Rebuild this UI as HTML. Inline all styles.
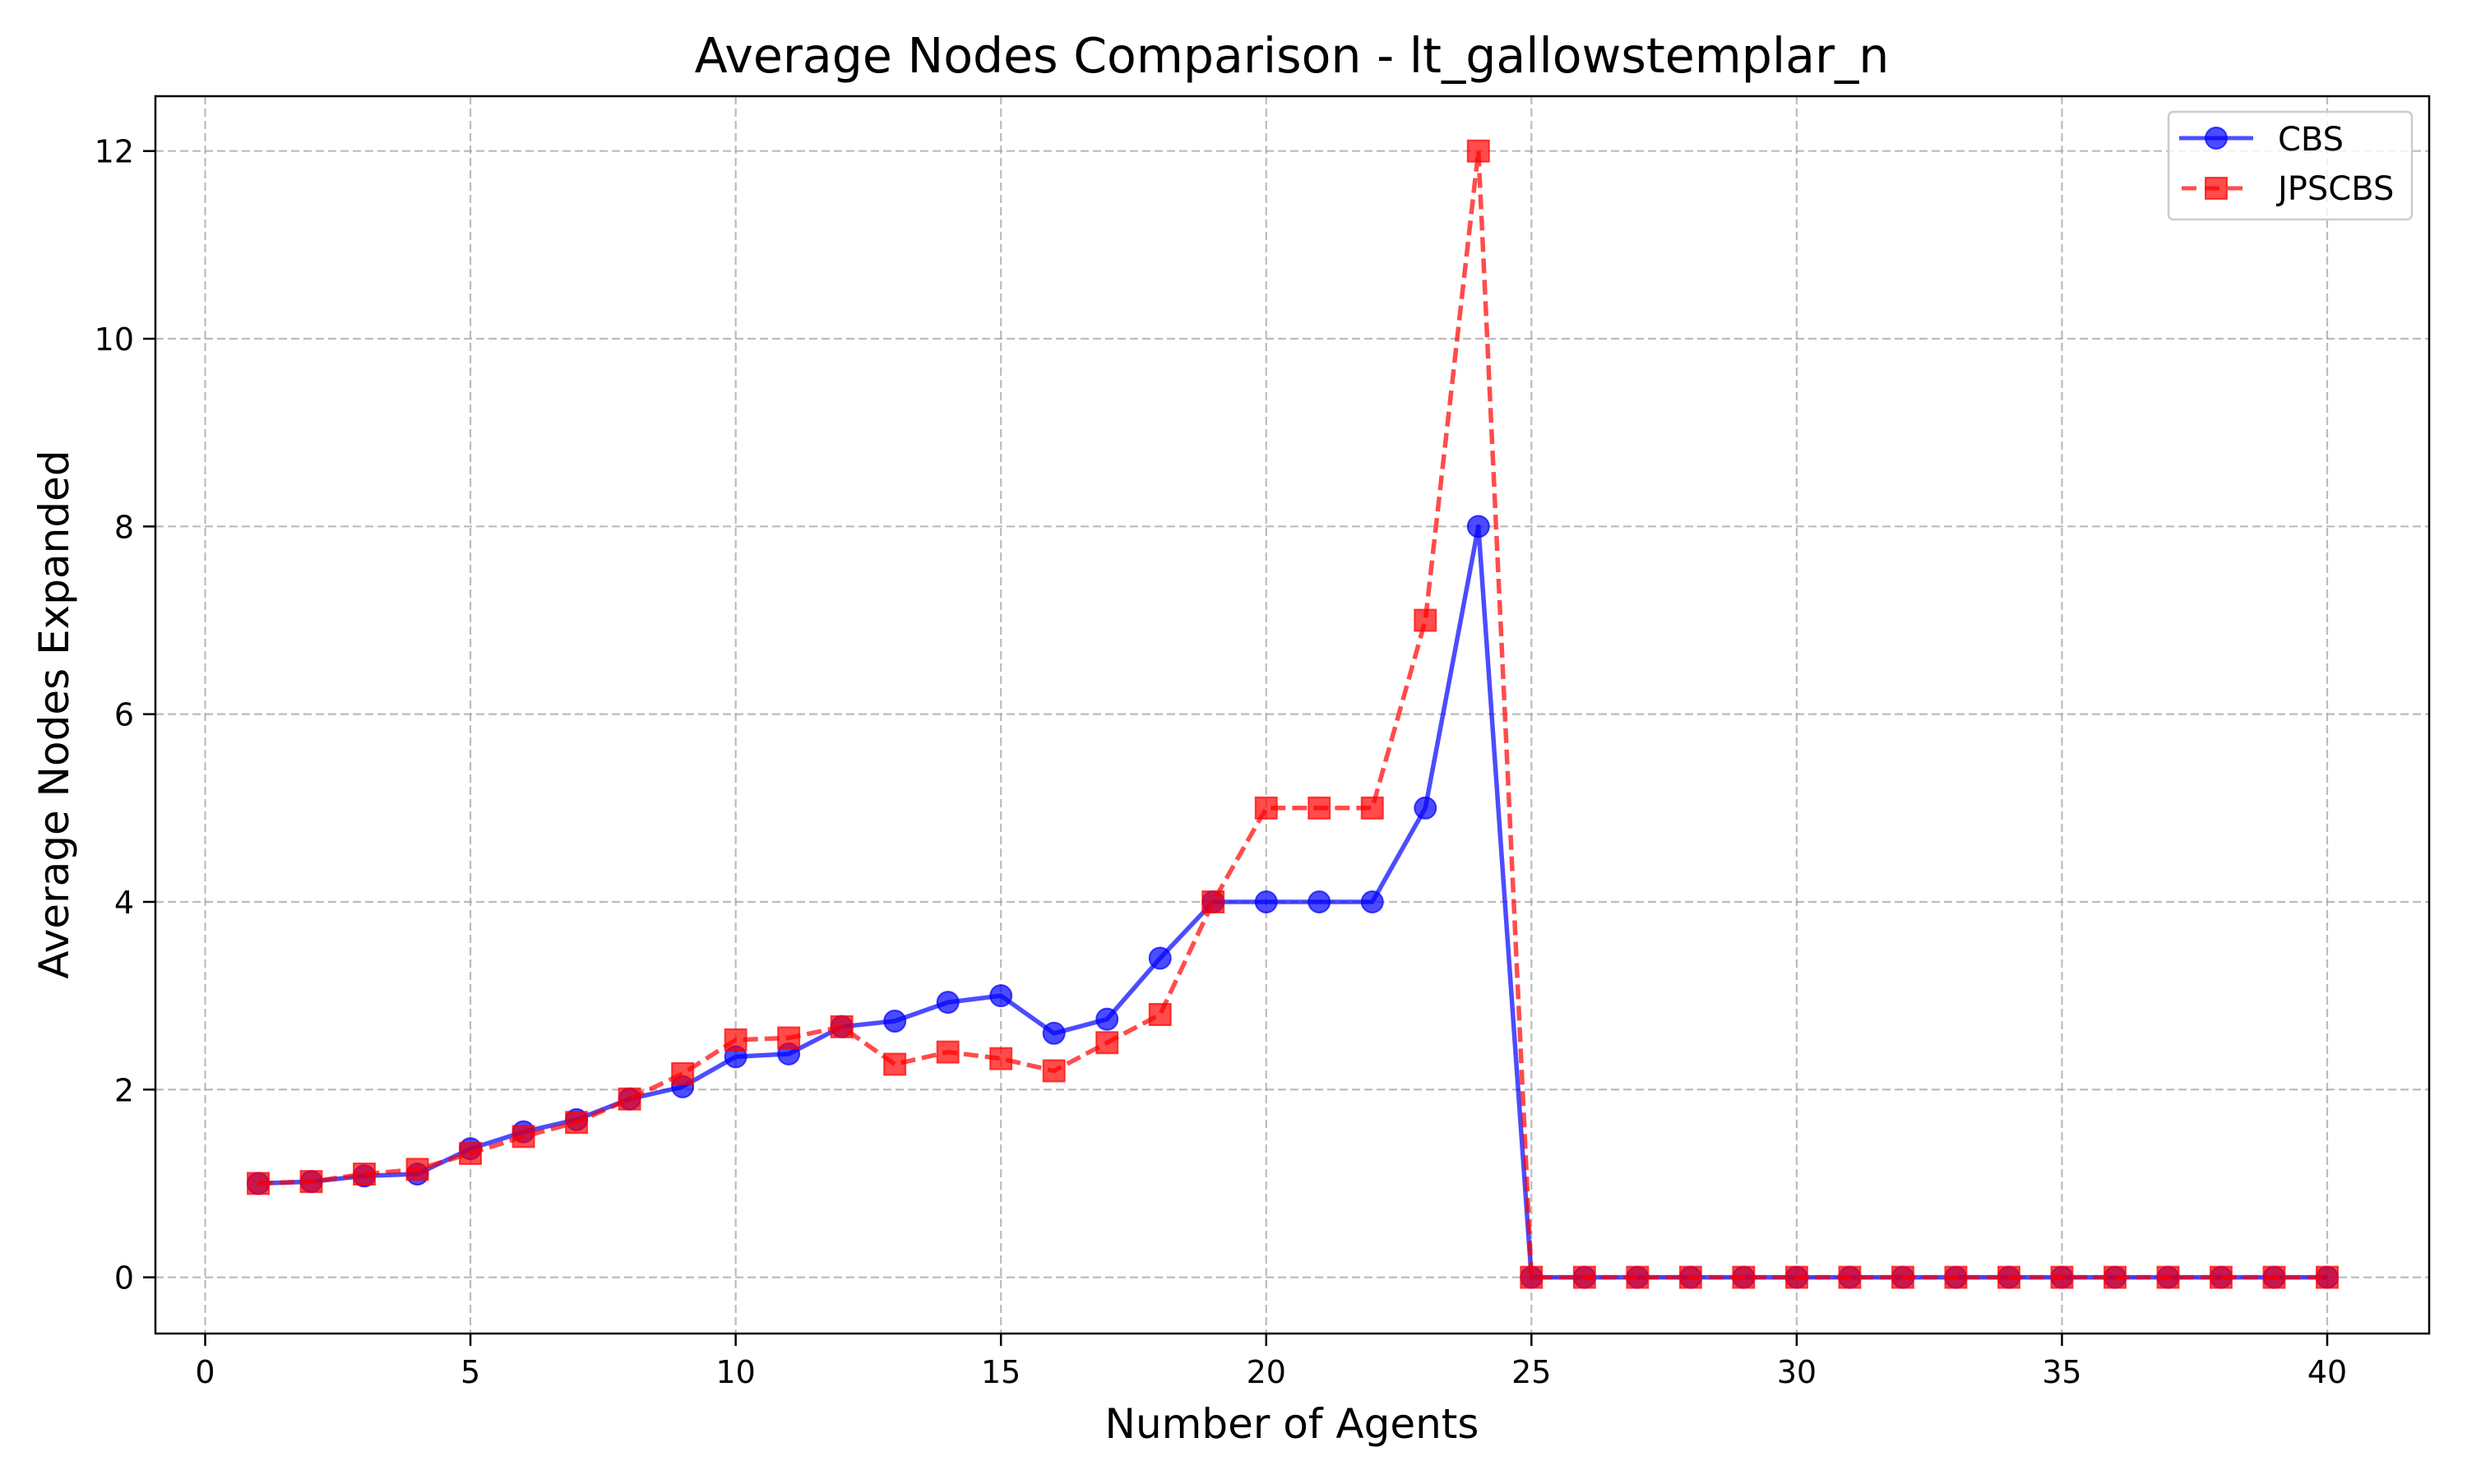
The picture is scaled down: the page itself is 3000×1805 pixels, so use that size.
<!DOCTYPE html>
<html><head><meta charset="utf-8"><style>
html,body{margin:0;padding:0;background:#fff}
svg text{font-family:"DejaVu Sans","Liberation Sans",sans-serif;fill:#000}
</style></head><body>
<svg id="chart" width="3000" height="1800" viewBox="0 0 3000 1800" xmlns="http://www.w3.org/2000/svg">
<rect width="3000" height="1800" fill="#fff"/>
<g id="grid"></g>
<g id="ticks"></g>
<g id="series"></g>
<rect x="189" y="117" width="2765" height="1505" fill="none" stroke="#000" stroke-width="2.5"/>
<text x="1571" y="88" font-size="58.5" text-anchor="middle">Average Nodes Comparison - lt_gallowstemplar_n</text>
<text x="1571" y="1749" font-size="50" text-anchor="middle">Number of Agents</text>
<text x="83" y="869" font-size="50" text-anchor="middle" transform="rotate(-90 83 869)">Average Nodes Expanded</text>
<g>
<rect x="2637" y="136" width="296" height="131" rx="6" fill="#fff" fill-opacity="0.8" stroke="#ccc" stroke-width="2.5"/>
<g>
<line x1="2650" y1="168" x2="2740" y2="168" stroke="#0000ff" stroke-opacity="0.7" stroke-width="5"/>
<circle cx="2695" cy="168" r="13" fill="#0000ff" fill-opacity="0.7" stroke="#0000ff" stroke-opacity="0.7" stroke-width="2"/>
<text x="2770" y="183" font-size="40">CBS</text></g>
<g>
<line x1="2653" y1="229" x2="2737" y2="229" stroke="#ff0000" stroke-opacity="0.7" stroke-width="5" stroke-dasharray="18,10"/>
<rect x="2682" y="216" width="26" height="26" fill="#ff0000" fill-opacity="0.7" stroke="#ff0000" stroke-opacity="0.7" stroke-width="2"/>
<text x="2770" y="243" font-size="40">JPSCBS</text></g>
</g>
</svg>
<script>
const agents = [1,2,3,4,5,6,7,8,9,10,11,12,13,14,15,16,17,18,19,20,21,22,23,24,25,26,27,28,29,30,31,32,33,34,35,36,37,38,39,40];
const cbsValues = [1.0,1.02,1.08,1.1,1.37,1.55,1.68,1.9,2.03,2.35,2.38,2.67,2.73,2.93,3.0,2.6,2.75,3.4,4,4,4,4,5,8,0,0,0,0,0,0,0,0,0,0,0,0,0,0,0,0];
const jpsValues = [1.0,1.02,1.1,1.15,1.32,1.5,1.65,1.9,2.17,2.53,2.55,2.67,2.27,2.4,2.33,2.2,2.5,2.8,4,5,5,5,7,12,0,0,0,0,0,0,0,0,0,0,0,0,0,0,0,0];
const xTicks = [0,5,10,15,20,25,30,35,40];
const yTicks = [0,2,4,6,8,10,12];

const NS = "http://www.w3.org/2000/svg";
function xs(v){ return 249.5 + v * (2830 - 249.5) / 40; }
function ys(v){ return 1553.6 - v * (1553.6 - 183.7) / 12; }
function mk(tag, attrs, parent){
  const e = document.createElementNS(NS, tag);
  for (const k in attrs) e.setAttribute(k, attrs[k]);
  parent.appendChild(e);
  return e;
}
const grid = document.getElementById('grid');
const ticks = document.getElementById('ticks');
const series = document.getElementById('series');

xTicks.forEach(t => {
  const g = mk('line', {x1:xs(t), x2:xs(t), y1:117, y2:1622, stroke:'#a0a0a0', 'stroke-opacity':0.7, 'stroke-width':2.2, 'stroke-dasharray':'10,5'}, grid);
  
  
  const tk = mk('line', {x1:xs(t), x2:xs(t), y1:1622, y2:1637, stroke:'#000', 'stroke-width':2.5}, ticks);
  
  
  const tx = mk('text', {x:xs(t), y:1682, 'font-size':38, 'text-anchor':'middle'}, ticks);
  tx.textContent = t;
  
  
});
yTicks.forEach(t => {
  const g = mk('line', {x1:189, x2:2954, y1:ys(t), y2:ys(t), stroke:'#a0a0a0', 'stroke-opacity':0.7, 'stroke-width':2.2, 'stroke-dasharray':'10,5'}, grid);
  
  
  const tk = mk('line', {x1:174, x2:189, y1:ys(t), y2:ys(t), stroke:'#000', 'stroke-width':2.5}, ticks);
  
  
  const tx = mk('text', {x:163, y:ys(t)+14, 'font-size':38, 'text-anchor':'end'}, ticks);
  tx.textContent = t;
  
  
});

function drawSeries(vals, color, dash, shape, name){
  const pts = agents.map((a,i) => xs(a).toFixed(1) + ',' + ys(vals[i]).toFixed(1)).join(' ');
  const attrs = {points:pts, fill:'none', stroke:color, 'stroke-opacity':0.7, 'stroke-width':5.5, 'stroke-linejoin':'round'};
  if (dash) attrs['stroke-dasharray'] = dash;
  const pl = mk('polyline', attrs, series);
  
  
  agents.forEach((a,i) => {
    let m;
    if (shape === 'circle') m = mk('circle', {cx:xs(a), cy:ys(vals[i]), r:13}, series);
    else m = mk('rect', {x:xs(a)-13, y:ys(vals[i])-13, width:26, height:26}, series);
    m.setAttribute('fill', color);
    m.setAttribute('fill-opacity', 0.7);
    m.setAttribute('stroke', color);
    m.setAttribute('stroke-opacity', 0.7);
    m.setAttribute('stroke-width', 2);
    
    
  });
}
drawSeries(cbsValues, '#0000ff', null, 'circle', 'cbs');
drawSeries(jpsValues, '#ff0000', '18,8', 'square', 'jpscbs');
</script>
</body></html>
